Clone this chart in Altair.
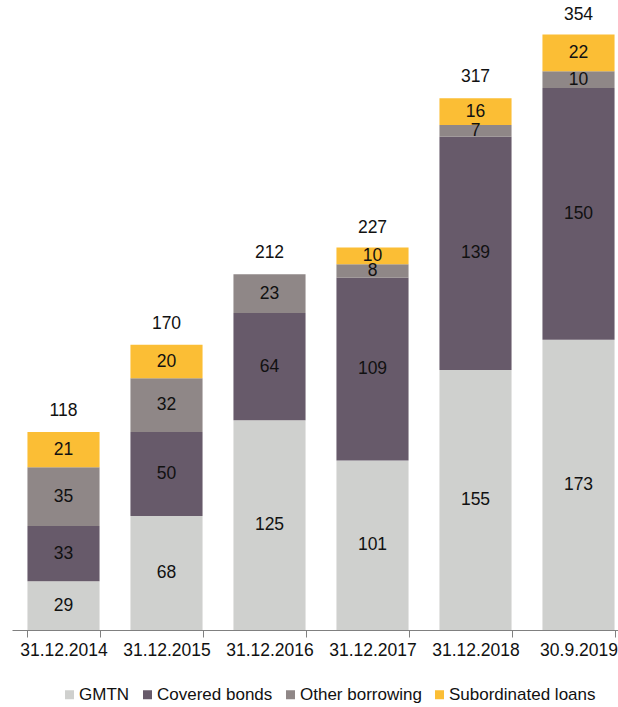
import altair as alt
import pandas as pd

categories = ["31.12.2014", "31.12.2015", "31.12.2016", "31.12.2017", "31.12.2018", "30.9.2019"]
series = ["GMTN", "Covered bonds", "Other borrowing", "Subordinated loans"]
gmtn = [29, 68, 125, 101, 155, 173]
covered = [33, 50, 64, 109, 139, 150]
other = [35, 32, 23, 8, 7, 10]
subord = [21, 20, 0, 10, 16, 22]
totals = [118, 170, 212, 227, 317, 354]
colors = ["#cfd0ce", "#675a6a", "#8f8787", "#fbbe35"]

rows = []
for i, c in enumerate(categories):
    for j, (s, vals) in enumerate(zip(series, [gmtn, covered, other, subord])):
        rows.append({"cat": c, "series": s, "value": vals[i], "ord": j})
df = pd.DataFrame(rows)
tot_df = pd.DataFrame({"cat": categories, "total": totals})

FONT = "Liberation Sans"
FS = 17.5
xscale = alt.Scale(paddingInner=0.3, paddingOuter=0.15, range=[0, 618])
xaxis = alt.Axis(labelAngle=0, labelFontSize=FS, labelColor="#111111", labelFont=FONT,
                 domainColor="#808080", tickColor="#808080", tickSize=7,
                 tickBand="extent", labelPadding=4, domainWidth=1)
yscale = alt.Scale(domain=[0, 375.5], nice=False)

bars = alt.Chart(df).mark_bar().encode(
    x=alt.X("cat:N", sort=categories, title=None, scale=xscale, axis=xaxis),
    y=alt.Y("value:Q", stack="zero", scale=yscale, axis=None),
    color=alt.Color("series:N", sort=series,
                    scale=alt.Scale(domain=series, range=colors),
                    legend=alt.Legend(title=None, orient="none", direction="horizontal",
                                      legendX=49, legendY=686, symbolType="square",
                                      symbolSize=81, symbolStrokeWidth=0,
                                      labelFontSize=17, labelFont=FONT, labelColor="#111111",
                                      columnPadding=9, labelOffset=1)),
    order=alt.Order("ord:Q"),
)

labels = alt.Chart(df).transform_stack(
    stack="value", groupby=["cat"], as_=["v0", "v1"], sort=[alt.SortField("ord")]
).transform_calculate(
    mid="(datum.v0 + datum.v1) / 2"
).transform_filter("datum.value > 0").mark_text(
    fontSize=FS, font=FONT, color="#111111", baseline="middle"
).encode(
    x=alt.X("cat:N", sort=categories, title=None, scale=xscale, axis=xaxis),
    y=alt.Y("mid:Q", scale=yscale, axis=None),
    text="value:Q",
)

tot = alt.Chart(tot_df).mark_text(
    fontSize=FS, font=FONT, color="#111111", baseline="middle", dy=-21
).encode(
    x=alt.X("cat:N", sort=categories, title=None, scale=xscale, axis=xaxis),
    y=alt.Y("total:Q", scale=yscale, axis=None),
    text="total:Q",
)

chart = alt.layer(bars, labels, tot).properties(
    width=606, height=630,
    autosize=alt.AutoSizeParams(type="none"),
    padding={"left": 12, "top": 0, "right": 0, "bottom": 77},
    background="white",
).configure_view(strokeWidth=0)

chart.save("out.html", embed_options={"renderer": "svg", "actions": False})
